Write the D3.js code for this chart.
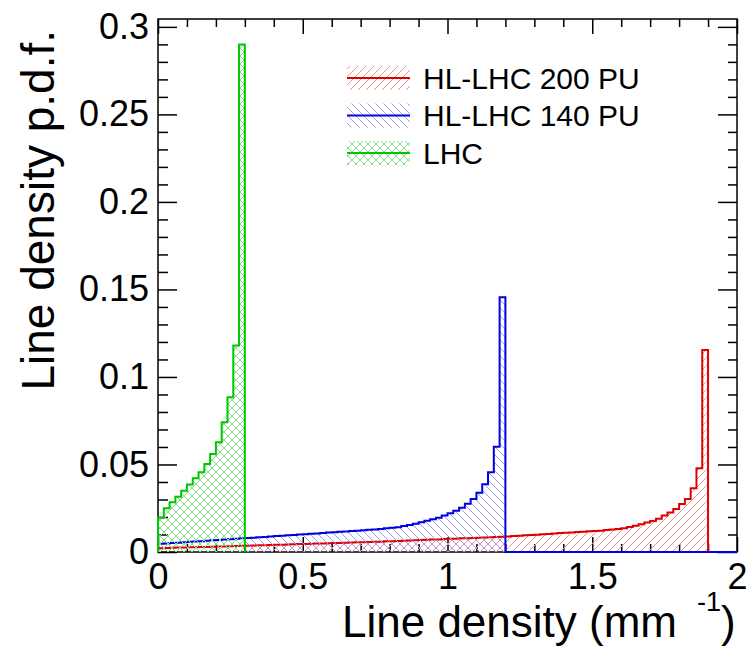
<!DOCTYPE html>
<html>
<head>
<meta charset="utf-8">
<script src="https://cdn.jsdelivr.net/npm/d3@7"></script>
<style>
body { margin: 0; background: #fff; }
text { font-family: "Liberation Sans", Arial, sans-serif; fill: #000; }
</style>
</head>
<body>
<svg id="drawing_region"></svg>
<script>
// histogram contents, bin width 0.02 mm^-1, first bin starts at 0
const binWidth = 0.02;
const xTicks = [0, 0.5, 1, 1.5, 2];
const yTicks = [0, 0.05, 0.1, 0.15, 0.2, 0.25, 0.3];
const xMinorTicks = [0.1, 0.2, 0.3, 0.4, 0.6, 0.7, 0.8, 0.9, 1.1, 1.2, 1.3, 1.4, 1.6, 1.7, 1.8, 1.9];
const yMinorTicks = [0.01, 0.02, 0.03, 0.04, 0.06, 0.07, 0.08, 0.09, 0.11, 0.12, 0.13, 0.14,
    0.16, 0.17, 0.18, 0.19, 0.21, 0.22, 0.23, 0.24, 0.26, 0.27, 0.28, 0.29];

const hl200 = [
    0.0022, 0.0023, 0.0024, 0.0025, 0.0026, 0.0027, 0.0027, 0.0028, 0.0029, 0.0030,
    0.0031, 0.0032, 0.0033, 0.0034, 0.0035, 0.0036, 0.0037, 0.0038, 0.0039, 0.0040,
    0.0041, 0.0042, 0.0043, 0.0044, 0.0045, 0.0046, 0.0047, 0.0048, 0.0049, 0.0050,
    0.0051, 0.0052, 0.0053, 0.0054, 0.0055, 0.0056, 0.0057, 0.0058, 0.0059, 0.0061,
    0.0062, 0.0063, 0.0064, 0.0066, 0.0067, 0.0068, 0.0070, 0.0071, 0.0072, 0.0074,
    0.0075, 0.0076, 0.0078, 0.0079, 0.0080, 0.0082, 0.0083, 0.0084, 0.0086, 0.0087,
    0.0089, 0.0091, 0.0093, 0.0095, 0.0097, 0.0099, 0.0101, 0.0103, 0.0106, 0.0108,
    0.0110, 0.0112, 0.0114, 0.0116, 0.0118, 0.0120, 0.0122, 0.0125, 0.0128, 0.0131,
    0.0135, 0.0143, 0.0150, 0.0158, 0.0168, 0.0177, 0.0190, 0.0208, 0.0225, 0.0246,
    0.0274, 0.0303, 0.0364, 0.0478, 0.1154
];
const hl140 = [
    0.0047, 0.0049, 0.0051, 0.0053, 0.0056, 0.0058, 0.0060, 0.0062, 0.0064, 0.0067,
    0.0069, 0.0071, 0.0073, 0.0075, 0.0078, 0.0080, 0.0082, 0.0084, 0.0086, 0.0089,
    0.0091, 0.0093, 0.0095, 0.0097, 0.0100, 0.0102, 0.0104, 0.0106, 0.0108, 0.0111,
    0.0113, 0.0115, 0.0117, 0.0120, 0.0122, 0.0124, 0.0127, 0.0129, 0.0132, 0.0135,
    0.0138, 0.0141, 0.0149, 0.0154, 0.0162, 0.0170, 0.0179, 0.0187, 0.0196, 0.0208,
    0.0221, 0.0236, 0.0253, 0.0276, 0.0303, 0.0339, 0.0387, 0.0455, 0.0602, 0.1455
];
const lhc = [
    0.0196, 0.0250, 0.0284, 0.0316, 0.0350, 0.0385, 0.0421, 0.0455, 0.0503, 0.0560,
    0.0627, 0.0741, 0.0884, 0.1180, 0.2900
];
const seriesNames = ['HL-LHC 200 PU', 'HL-LHC 140 PU', 'LHC'];
const seriesRange = [2, 2, 0.3];   // upper edge of each histogram's axis
const lineColors = ['#e00000', '#0000e0', '#00c800'];
const hatchColors = ['#f59393', '#9c9cf2', '#88dd88'];
const hatchKinds = ['fwd', 'back', 'cross'];

const width = 752, height = 646;
const frame = {left: 158, right: 737, top: 19, bottom: 552};

const svg = d3.select('#drawing_region')
    .attr('width', width)
    .attr('height', height);

const x = d3.scaleLinear().domain([0, 2]).range([frame.left, frame.right]);
const y = d3.scaleLinear().domain([0, 0.3045]).range([frame.bottom, frame.top]);

// hatch patterns, drawn as pixel staircases
const defs = svg.append('defs');
hatchKinds.forEach((kind, i) => {
    const s = 8;
    const p = defs.append('pattern')
        .attr('id', 'hatch' + i)
        .attr('patternUnits', 'userSpaceOnUse')
        .attr('width', s).attr('height', s);
    for (let k = 0; k < s; k++) {
        if (kind !== 'back') {
            p.append('rect').attr('x', k).attr('y', s - 1 - k)
                .attr('width', 1).attr('height', 1)
                .attr('fill', hatchColors[i]);
        }
        if (kind !== 'fwd') {
            p.append('rect').attr('x', k).attr('y', k)
                .attr('width', 1).attr('height', 1)
                .attr('fill', hatchColors[i]);
        }
    }
});

// axes: major and minor ticks drawn inward on all four sides
function addAxis(axis, transform) {
    const g = svg.append('g')
        .attr('transform', transform)
        .call(axis);
    g.select('.domain').remove();
    g.selectAll('.tick line').attr('stroke', '#000').attr('stroke-width', 1.5);
    g.selectAll('text')
        .attr('font-size', 36)
        .attr('font-family', '"Liberation Sans", Arial, sans-serif')
        .attr('fill', '#000');
    return g;
}

addAxis(d3.axisBottom(x).tickValues(xTicks).tickSize(-15).tickPadding(11)
    .tickFormat(d3.format('')), `translate(0,${frame.bottom})`);
addAxis(d3.axisBottom(x).tickValues(xMinorTicks).tickSize(-8).tickFormat(''),
    `translate(0,${frame.bottom})`);
addAxis(d3.axisTop(x).tickValues(xTicks).tickSize(-15).tickFormat(''),
    `translate(0,${frame.top})`);
addAxis(d3.axisTop(x).tickValues(xMinorTicks).tickSize(-8).tickFormat(''),
    `translate(0,${frame.top})`);

addAxis(d3.axisLeft(y).tickValues(yTicks).tickSize(-19).tickPadding(9)
    .tickFormat(d3.format('')), `translate(${frame.left},0)`);
addAxis(d3.axisLeft(y).tickValues(yMinorTicks).tickSize(-10).tickFormat(''),
    `translate(${frame.left},0)`);
addAxis(d3.axisRight(y).tickValues(yTicks).tickSize(-19).tickFormat(''),
    `translate(${frame.right},0)`);
addAxis(d3.axisRight(y).tickValues(yMinorTicks).tickSize(-9).tickFormat(''),
    `translate(${frame.right},0)`);

svg.append('rect')
    .attr('x', frame.left).attr('y', frame.top)
    .attr('width', frame.right - frame.left)
    .attr('height', frame.bottom - frame.top)
    .attr('fill', 'none')
    .attr('stroke', '#000')
    .attr('stroke-width', 1.5);

// histograms
const area = d3.area()
    .curve(d3.curveStepAfter)
    .x(d => x(d[0]))
    .y0(y(0))
    .y1(d => y(d[1]));
const outline = d3.line()
    .curve(d3.curveStepAfter)
    .x(d => x(d[0]))
    .y(d => y(d[1]));

[hl200, hl140, lhc].forEach((vals, i) => {
    const nBins = Math.round(seriesRange[i] / binWidth);
    const pts = [];
    for (let b = 0; b < nBins; b++) {
        pts.push([b * binWidth, b < vals.length ? vals[b] : 0]);
    }
    pts.push([nBins * binWidth, pts[pts.length - 1][1]]);
    const filled = pts.slice(0, vals.length).concat([[vals.length * binWidth, vals[vals.length - 1]]]);

    svg.append('path')
        .attr('d', area(filled))
        .attr('fill', `url(#hatch${i})`);
    const linePts = [[0, 0]].concat(pts);
    if (seriesRange[i] <= vals.length * binWidth + 1e-9) linePts.push([seriesRange[i], 0]);
    svg.append('path')
        .attr('d', outline(linePts))
        .attr('fill', 'none')
        .attr('stroke', lineColors[i])
        .attr('stroke-width', 2);
});

// legend
const legend = svg.append('g');
seriesNames.forEach((name, i) => {
    const cy = 78 + i * 37.5;
    legend.append('rect')
        .attr('x', 347).attr('y', cy - 12)
        .attr('width', 63).attr('height', 24)
        .attr('fill', `url(#hatch${i})`);
    legend.append('line')
        .attr('x1', 347).attr('x2', 410)
        .attr('y1', cy).attr('y2', cy)
        .attr('stroke', lineColors[i])
        .attr('stroke-width', 2);
    legend.append('text')
        .attr('x', 423).attr('y', cy)
        .attr('dy', '0.36em')
        .attr('font-size', 30)
        .text(name);
});

// axis titles
svg.append('text')
    .attr('x', 677).attr('y', 637)
    .attr('text-anchor', 'end')
    .attr('font-size', 44)
    .text('Line density (mm');
svg.append('text')
    .attr('x', 697).attr('y', 611)
    .attr('font-size', 27)
    .text('-1');
svg.append('text')
    .attr('x', 721).attr('y', 637)
    .attr('font-size', 44)
    .text(')');

svg.append('text')
    .attr('transform', 'translate(54,30) rotate(-90)')
    .attr('text-anchor', 'end')
    .attr('font-size', 46)
    .text('Line density p.d.f.');
</script>
</body>
</html>
